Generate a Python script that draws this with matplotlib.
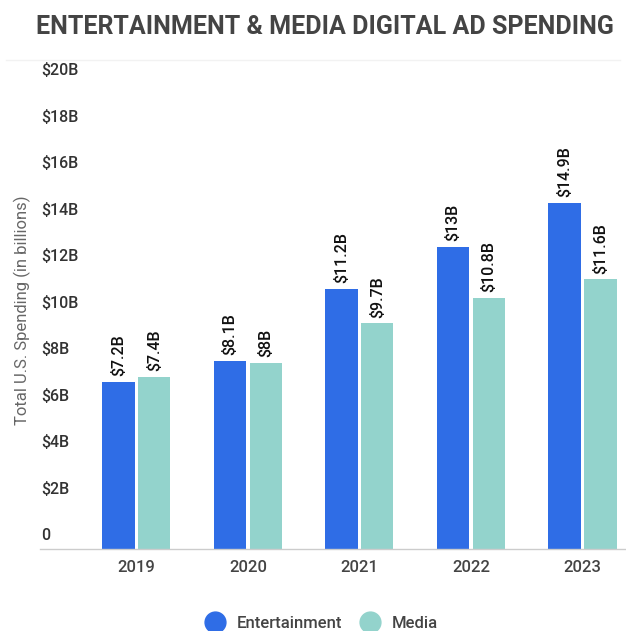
import numpy as np
import matplotlib.pyplot as plt
from matplotlib.lines import Line2D
import matplotlib.transforms as mtrans

plt.rcParams['font.family'] = ['Roboto', 'DejaVu Sans']

years = ['2019', '2020', '2021', '2022', '2023']
entertainment = [7.2, 8.1, 11.2, 13.0, 14.9]
media = [7.4, 8.0, 9.7, 10.8, 11.6]
ent_labels = ['$7.2B', '$8.1B', '$11.2B', '$13B', '$14.9B']
media_labels = ['$7.4B', '$8B', '$9.7B', '$10.8B', '$11.6B']
yticks = [0, 2, 4, 6, 8, 10, 12, 14, 16, 18, 20]
ytick_labels = ['0', '$2B', '$4B', '$6B', '$8B', '$10B', '$12B', '$14B', '$16B', '$18B', '$20B']

blue = '#2f6de6'
teal = '#93d3cc'

fig = plt.figure(figsize=(6.26, 6.31), dpi=100)
ax = fig.add_axes([40 / 626, 82 / 631, 1 - 40 / 626, (549 - 84) / 631])

x = np.arange(len(years))
w = 0.29
gap = 0.015
ax.bar(x - w / 2 - gap, entertainment, width=w, color=blue, zorder=2)
ax.bar(x + w / 2 + gap, media, width=w, color=teal, zorder=2)

for i in range(len(years)):
    ax.annotate(ent_labels[i], (x[i] - w / 2 - gap, entertainment[i]), xytext=(0, 4),
                textcoords='offset points', rotation=90, ha='center', va='bottom',
                fontsize=11.5, fontweight='medium', color='#111111')
    ax.annotate(media_labels[i], (x[i] + w / 2 + gap, media[i]), xytext=(0, 4),
                textcoords='offset points', rotation=90, ha='center', va='bottom',
                fontsize=11.5, fontweight='medium', color='#111111')

ax.set_xlim(-0.865, 4.39)
ax.set_ylim(0, 20)

# y labels sit above their (invisible) gridlines, inside the plot
trans = mtrans.blended_transform_factory(ax.transAxes, ax.transData)
for v, lab in zip(yticks, ytick_labels):
    ax.annotate(lab, (0.0, v), xycoords=trans, xytext=(1, 4), textcoords='offset points',
                ha='left', va='bottom', fontsize=11.5, fontweight='medium', color='#333333')

ax.set_yticks([])
ax.set_xticks(x)
ax.set_xticklabels(years, fontsize=12, fontweight='medium', color='#444444')
ax.tick_params(axis='x', length=0, pad=8)
for s in ['top', 'right', 'left']:
    ax.spines[s].set_visible(False)
ax.spines['bottom'].set_color('#cccccc')
ax.spines['bottom'].set_linewidth(1)

fig.text(22 / 626, 1 - 310 / 631, 'Total U.S. Spending (in billions)', rotation=90,
         ha='center', va='center', fontsize=12, color='#666666')

fig.text(325 / 626, 1 - 27 / 631, 'ENTERTAINMENT & MEDIA DIGITAL AD SPENDING',
         ha='center', va='center', fontsize=18, fontweight='bold', color='#444444')
fig.add_artist(Line2D([0.01, 0.99], [1 - 60 / 631, 1 - 60 / 631], color='#f2f2f2', lw=1))

handles = [Line2D([], [], marker='o', ls='', markersize=15, color=blue),
           Line2D([], [], marker='o', ls='', markersize=15, color=teal)]
fig.legend(handles, ['Entertainment', 'Media'], loc='center', bbox_to_anchor=(318 / 626, 8 / 631),
           ncol=2, frameon=False, fontsize=12, handletextpad=0.3, columnspacing=0.7,
           labelcolor='#444444', prop={'weight': 'medium', 'size': 12})

fig.savefig('out.png', dpi=100, facecolor='white')
